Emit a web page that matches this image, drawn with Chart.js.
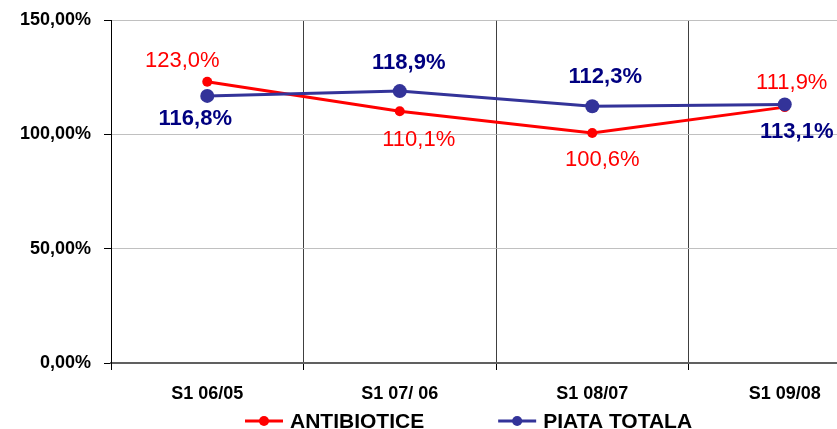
<!DOCTYPE html>
<html>
<head>
<meta charset="utf-8">
<script src="https://cdn.jsdelivr.net/npm/chart.js@4.4.1/dist/chart.umd.min.js"></script>
<style>
  html, body { margin: 0; padding: 0; background: #fff; overflow: hidden; }
  #wrap { position: relative; width: 890px; height: 429px; }
</style>
</head>
<body>
<div id="wrap"><canvas id="grafico"></canvas></div>
<script>
// datos del grafico
const categorias = ["S1 06/05", "S1 07/ 06", "S1 08/07", "S1 09/08"];
const antibiotice = [123.0, 110.1, 100.6, 111.9];
const piataTotala = [116.8, 118.9, 112.3, 113.1];
const ticksY = [0, 50, 100, 150];

const fuente = "'Liberation Sans', Arial, sans-serif";

function formatoPct(v, dec) {
    return v.toFixed(dec).replace(".", ",") + "%";
}

// etiquetas de valores junto a los puntos (desplazamiento por punto)
const etiquetasPlugin = {
    id: "etiquetas",
    afterDatasetsDraw(chart) {
        const ctx = chart.ctx;
        chart.data.datasets.forEach((ds, i) => {
            const meta = chart.getDatasetMeta(i);
            ctx.save();
            ctx.font = (ds.labelBold ? "bold " : "") + "22px " + fuente;
            ctx.fillStyle = ds.labelColor;
            ctx.textAlign = "center";
            ctx.textBaseline = "middle";
            meta.data.forEach((pt, j) => {
                ctx.fillText(formatoPct(ds.data[j], 1), pt.x + ds.labelDx[j], pt.y + ds.labelDy[j]);
            });
            ctx.restore();
        });
    }
};

// leyenda dibujada a mano (linea con punto + texto)
const leyendaPlugin = {
    id: "leyenda",
    afterDraw(chart, args, opts) {
        const ctx = chart.ctx;
        let x = opts.x;
        const y = opts.y;
        ctx.save();
        ctx.font = "bold 21px " + fuente;
        ctx.textBaseline = "middle";
        ctx.textAlign = "left";
        chart.data.datasets.forEach((ds) => {
            ctx.strokeStyle = ds.borderColor;
            ctx.lineWidth = 3;
            ctx.beginPath();
            ctx.moveTo(x, y);
            ctx.lineTo(x + 38, y);
            ctx.stroke();
            ctx.fillStyle = ds.borderColor;
            ctx.beginPath();
            ctx.arc(x + 19, y, 5, 0, Math.PI * 2);
            ctx.fill();
            ctx.fillStyle = "#000";
            ctx.fillText(ds.label, x + 45, y + 1);
            x += 45 + ctx.measureText(ds.label).width + opts.gap;
        });
        ctx.restore();
    }
};

const ctx = document.getElementById("grafico").getContext("2d");

new Chart(ctx, {
    type: "line",
    data: {
        labels: categorias,
        datasets: [{
            label: "ANTIBIOTICE",
            data: antibiotice,
            borderColor: "#ff0000",
            backgroundColor: "#ff0000",
            borderWidth: 3,
            pointRadius: 5,
            pointBorderWidth: 0,
            tension: 0,
            order: 1,
            labelColor: "#ff0000",
            labelBold: false,
            labelDx: [-25, 19, 10, 7],
            labelDy: [-21, 29, 27, -24]
        }, {
            label: "PIATA TOTALA",
            data: piataTotala,
            borderColor: "#333399",
            backgroundColor: "#333399",
            borderWidth: 3,
            pointRadius: 7,
            pointBorderWidth: 0,
            tension: 0,
            order: 0,
            labelColor: "#000080",
            labelBold: true,
            labelDx: [-12, 9, 13, 12],
            labelDy: [23, -28, -29, 28]
        }]
    },
    options: {
        responsive: true,
        maintainAspectRatio: false,
        animation: false,
        layout: { padding: { top: 20, right: 9, bottom: 0, left: 0 } },
        plugins: {
            legend: { display: false },
            tooltip: { enabled: false },
            leyenda: { x: 245, y: 421, gap: 74 }
        },
        scales: {
            x: {
                offset: true,
                grid: {
                    offset: true,
                    color: "#404040",
                    tickColor: "#000",
                    tickLength: 7,
                    lineWidth: 1
                },
                border: { color: "#606060", width: 2 },
                ticks: {
                    color: "#000",
                    padding: 13,
                    maxRotation: 0,
                    font: { family: fuente, size: 18, weight: "bold" }
                },
                afterFit(scale) { scale.height = 66; }
            },
            y: {
                min: 0,
                max: 150,
                afterBuildTicks(scale) {
                    scale.ticks = ticksY.map(v => ({ value: v }));
                },
                grid: {
                    color: "#c0c0c0",
                    tickColor: "#000",
                    tickLength: 7,
                    lineWidth: 1
                },
                border: { color: "#000", width: 1 },
                ticks: {
                    color: "#000",
                    padding: 13,
                    font: { family: fuente, size: 18, weight: "bold" },
                    callback: (v) => formatoPct(v, 2)
                },
                afterFit(scale) {
                    scale.width = 111;
                    scale.paddingTop = 0;
                    scale.paddingBottom = 0;
                }
            }
        }
    },
    plugins: [etiquetasPlugin, leyendaPlugin]
});
</script>
</body>
</html>
